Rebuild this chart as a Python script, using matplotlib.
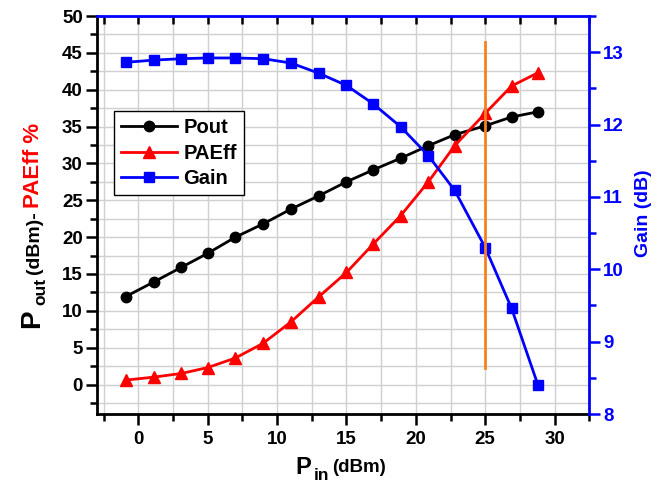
import matplotlib
matplotlib.use("Agg")
import matplotlib.pyplot as plt
from matplotlib.ticker import MultipleLocator

plt.rcParams['font.family'] = ['Liberation Sans', 'DejaVu Sans']
plt.rcParams['font.weight'] = 'bold'

pin = [-0.9, 1.1, 3.1, 5.0, 7.0, 9.0, 11.0, 13.0, 15.0, 16.9, 18.9, 20.9, 22.8, 25.0, 26.9, 28.8]
pout = [11.94, 13.9, 15.9, 17.8, 20.0, 21.8, 23.8, 25.6, 27.5, 29.1, 30.7, 32.4, 33.9, 35.1, 36.3, 37.0]
paeff = [0.6, 1.0, 1.5, 2.3, 3.6, 5.6, 8.5, 11.9, 15.2, 19.0, 22.9, 27.5, 32.4, 36.8, 40.5, 42.3]
gain = [12.86, 12.89, 12.91, 12.92, 12.92, 12.91, 12.85, 12.71, 12.54, 12.29, 11.97, 11.57, 11.09, 10.30, 9.46, 8.40]
marker_x = 25
marker_y = [2.2, 46.5]

W, H = 667, 486
fig = plt.figure(figsize=(W / 100, H / 100), dpi=100)
ax = fig.add_axes([96.7 / W, 1 - 414 / H, (589.3 - 96.7) / W, (414 - 16) / H])
ax2 = ax.twinx()

ax.set_xlim(-3, 32.5)
ax.set_ylim(-4, 50)
ax2.set_ylim(8, 13.5)

ax.xaxis.set_major_locator(MultipleLocator(5))
ax.xaxis.set_minor_locator(MultipleLocator(2.5))
ax.yaxis.set_major_locator(MultipleLocator(5))
ax.yaxis.set_minor_locator(MultipleLocator(2.5))
ax2.yaxis.set_major_locator(MultipleLocator(1))
ax2.yaxis.set_minor_locator(MultipleLocator(0.5))

ax.grid(True, which='both', color='#d0d0d0', linewidth=1.0)
ax.set_axisbelow(True)

lw = 2.0
l1, = ax.plot(pin, pout, color='black', lw=lw, marker='o', markersize=7.5, label='Pout', zorder=3)
l2, = ax.plot(pin, paeff, color='red', lw=lw, marker='^', markersize=8.5, label='PAEff', zorder=3)
l3, = ax2.plot(pin, gain, color='blue', lw=lw, marker='s', markersize=7, label='Gain', zorder=3)
ax2.plot([marker_x, marker_x], marker_y, color='#f5821f', lw=2.0, transform=ax.transData, zorder=4)

for s in ['left', 'bottom']:
    ax.spines[s].set_linewidth(2)
    ax.spines[s].set_color('black')
for s in ['top', 'right']:
    ax2.spines[s].set_linewidth(2)
    ax2.spines[s].set_color('blue')
ax2.spines['left'].set_visible(False)
ax2.spines['bottom'].set_visible(False)
ax.spines['top'].set_visible(False)
ax.spines['right'].set_visible(False)

TS = 13.5
ax.tick_params(axis='both', which='major', direction='out', length=8, width=1.8, labelsize=TS, colors='black')
ax.tick_params(axis='both', which='minor', direction='out', length=5, width=1.8)
ax.tick_params(axis='x', which='major', pad=4)
ax.tick_params(axis='y', which='major', pad=2)
ax.tick_params(axis='x', which='both', top=True, labeltop=False)
ax2.tick_params(axis='y', which='major', direction='out', length=8, width=1.8, labelsize=TS,
                colors='blue', pad=2)
ax2.tick_params(axis='y', which='minor', direction='out', length=5, width=1.8, colors='blue')
for t in ax.xaxis.get_major_ticks() + ax.xaxis.get_minor_ticks():
    t.tick2line.set_marker(3)  # TICKDOWN (inward at top)
    t.tick2line.set_color('blue')
    t.tick2line.set_markersize(6)

for lab in ax.get_xticklabels() + ax.get_yticklabels() + ax2.get_yticklabels():
    lab.set_fontweight('bold')

leg = ax2.legend(handles=[l1, l2, l3], loc='upper left', bbox_to_anchor=(0.035, 0.761),
                 borderaxespad=0, fancybox=False, framealpha=1, edgecolor='black',
                 prop={'weight': 'bold', 'size': 14.5}, handlelength=2.8, handletextpad=0.3,
                 labelspacing=0.32, borderpad=0.35)
leg.get_frame().set_linewidth(1.0)


def fx(x):
    return x / W


def fy(y):
    return 1 - y / H


renderer = fig.canvas.get_renderer()

# x label, chained horizontally
xl_parts = [('P', 17, 0), ('in', 12.5, -6), ('(dBm)', 13.5, 2)]
x = 295.0
base = 474.0
for txt, size, dy in xl_parts:
    t = fig.text(fx(x), fy(base - dy), txt, fontsize=size, fontweight='bold',
                 va='baseline', ha='left', color='black')
    bb = t.get_window_extent(renderer)
    x = bb.x1 + 3

# y label, chained vertically (rotated)
yl_parts = [('P', 20, 0, 'black'), ('out', 12.5, 6, 'black'),
            ('(dBm)-', 14, 0, 'black'), ('PAEff %', 16, 0, 'red')]
y = 328.0
bx = 39.0
for txt, size, dx, col in yl_parts:
    t = fig.text(fx(bx + dx), fy(y), txt, fontsize=size, color=col, rotation=90,
                 rotation_mode='anchor', ha='left', va='baseline', fontweight='bold')
    bb = t.get_window_extent(renderer)
    y = H - bb.y1 - 4

# right label
fig.text(fx(643), fy(213), 'Gain (dB)', fontsize=14, color='blue', rotation=90,
         ha='center', va='center', fontweight='bold')

fig.savefig('out.png', dpi=100)
